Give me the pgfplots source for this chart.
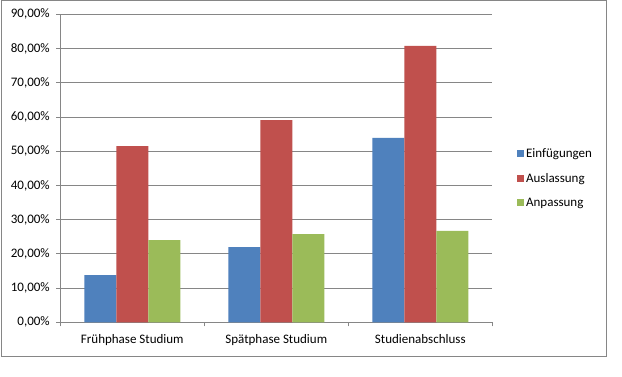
\documentclass[border=0pt]{standalone}
\usepackage{fontspec}
\setmainfont{Carlito}
\usepackage{pgfplots}
\pgfplotsset{compat=1.18}
\definecolor{eblue}{HTML}{4F81BD}
\definecolor{ered}{HTML}{C0504D}
\definecolor{egreen}{HTML}{9BBB59}
\definecolor{gridgray}{HTML}{868686}
\pgfplotsset{sqlegend/.style={legend image code/.code={\fill[##1] (0pt,-3.5pt) rectangle (7pt,3.5pt);}}}
\begin{document}
\begin{tikzpicture}
\useasboundingbox (0,0) rectangle (622pt,376pt);
\fill[white] (0,0) rectangle (622pt,376pt);
\draw[gridgray, line width=1pt] (1pt,20pt) rectangle (606pt,375.5pt);
\begin{axis}[
  at={(60.3pt,53.7pt)}, anchor=south west,
  scale only axis, width=432pt, height=308pt,
  font=\fontsize{13}{15}\selectfont,
  ymin=0, ymax=90, xmin=-0.5, xmax=2.5,
  ybar=0pt, bar width=32pt,
  axis lines*=left,
  axis line style={gridgray, line width=0.8pt},
  ytick={0,10,20,30,40,50,60,70,80,90},
  yticklabels={{0,00\%},{10,00\%},{20,00\%},{30,00\%},{40,00\%},{50,00\%},{60,00\%},{70,00\%},{80,00\%},{90,00\%}},
  yticklabel style={xshift=-3pt},
  ymajorgrids, grid style={gridgray, line width=0.8pt},
  tick style={gridgray, line width=0.8pt},
  tick align=outside, major tick length=4pt,
  xtick={-0.5,0.5,1.5,2.5}, xticklabels={},
  extra x ticks={0,1,2},
  extra x tick labels={Frühphase Studium, Spätphase Studium, Studienabschluss},
  extra x tick style={major tick length=0pt, grid=none, xticklabel style={yshift=-9pt}},
  legend style={at={(1.05,0.468)}, anchor=west, draw=none, fill=none,
    row sep=10pt, font=\fontsize{13}{15}\selectfont},
  legend cell align=left,
]
\addplot[fill=eblue, draw=none, sqlegend] coordinates {(0,13.8) (1,22.0) (2,53.9)};
\addplot[fill=ered, draw=none, sqlegend] coordinates {(0,51.5) (1,59.1) (2,80.8)};
\addplot[fill=egreen, draw=none, sqlegend] coordinates {(0,24.05) (1,25.8) (2,26.7)};
\legend{Einfügungen, Auslassung, Anpassung}
\end{axis}
\end{tikzpicture}
\end{document}
